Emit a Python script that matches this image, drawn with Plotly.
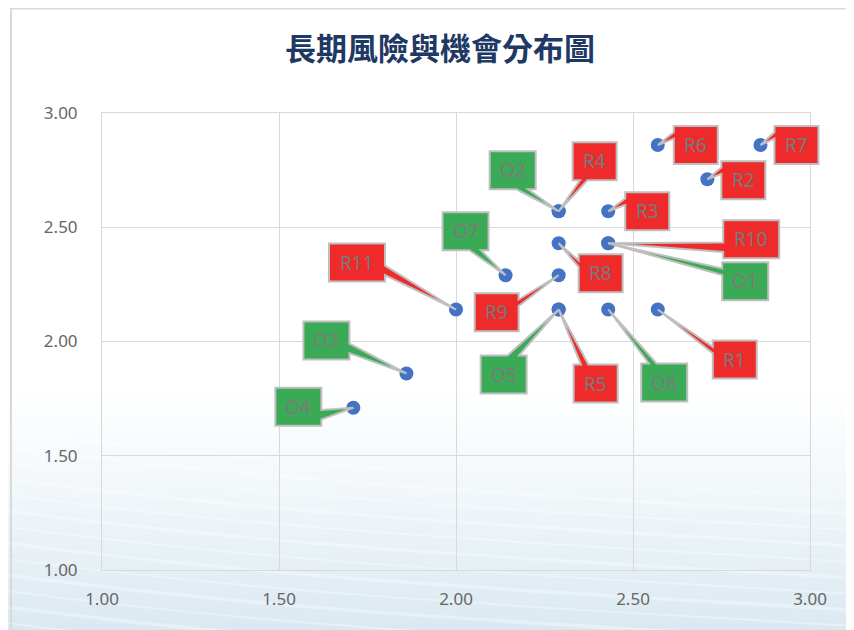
import plotly.graph_objects as go

# ---------------- data ----------------
labels = ["R1", "R2", "R3", "R4", "R5", "R6", "R7", "R8", "R9", "R10", "R11",
          "O1", "O2", "O3", "O4", "O5", "O6", "O7"]
x_vals = [2.57, 2.71, 2.43, 2.29, 2.29, 2.57, 2.86, 2.29, 2.29, 2.43, 2.00,
          2.43, 2.29, 1.86, 1.71, 2.29, 2.43, 2.14]
y_vals = [2.14, 2.71, 2.57, 2.57, 2.14, 2.86, 2.86, 2.43, 2.29, 2.43, 2.14,
          2.43, 2.57, 1.86, 1.71, 2.14, 2.14, 2.29]
tick_vals = [1.0, 1.5, 2.0, 2.5, 3.0]
title_text = "長期風險與機會分布圖"

# ---------------- layout (label box offsets in screen px, relative to point) ----
offsets = {
    "R1": (77, 50), "R2": (36, 1), "R3": (39, 0), "R4": (36, -50),
    "R5": (37, 74), "R6": (38, 0), "R7": (36, 0), "R8": (42, 30),
    "R9": (-62, 37), "R10": (143, -4), "R11": (-99, -47),
    "O1": (137, 38), "O2": (-46, -41), "O3": (-80, -33), "O4": (-55, -1),
    "O5": (-55, 65), "O6": (56, 73), "O7": (-40, -44),
}
draw_order = ["R6", "R7", "R2", "O2", "R4", "R3", "O1", "R10", "R8", "O7",
              "R11", "R9", "O5", "R5", "O6", "R1", "O3", "O4"]

OFF = 8  # browser body margin
SW, SH = 854, 630               # screen size
W, H = SW - OFF, SH - OFF       # figure size
L, R, T, B = 102, 810, 113, 570  # plot area in screen px
XR = (1.0, 3.0)
YR = (1.0, 3.0)
RED = "#EE2A2A"
GREEN = "#3AAA57"
BORDER = "#BFBFBF"


def PX(px):
    return (px - L) / (R - L)


def PY(py):
    return (B - py) / (B - T)


def callout_path(dx, dy, w, h):
    # screen coords (y down) relative to tip at (0,0)
    l, r, t, b = dx - w / 2, dx + w / 2, dy - h / 2, dy + h / 2
    tx, ty = -dx, -dy
    horiz = abs(tx) * h / w > abs(ty)
    if tx > 0:
        hx1, hx2 = l + w * 7 / 12, l + w * 10 / 12
    else:
        hx1, hx2 = l + w * 2 / 12, l + w * 4 / 12
    if ty > 0:
        vy1, vy2 = t + h * 7 / 12, t + h * 10 / 12
    else:
        vy1, vy2 = t + h * 2 / 12, t + h * 4 / 12
    pts = [(l, t)]
    if not horiz and ty < 0:
        pts += [(hx1, t), (0, 0), (hx2, t)]
    pts.append((r, t))
    if horiz and tx > 0:
        pts += [(r, vy1), (0, 0), (r, vy2)]
    pts.append((r, b))
    if not horiz and ty >= 0:
        pts += [(hx2, b), (0, 0), (hx1, b)]
    pts.append((l, b))
    if horiz and tx <= 0:
        pts += [(l, vy2), (0, 0), (l, vy1)]
    return "M " + " L ".join(f"{x:.2f},{-y:.2f}" for x, y in pts) + " Z"


shapes = []

# background gradient (white -> light blue)
top_c = (255, 255, 255)
bot_c = (218, 233, 241)
y_start, y_end = 380, SH
n = 50
for i in range(n):
    y0 = y_start + (y_end - y_start) * i / n
    y1 = y_start + (y_end - y_start) * (i + 1) / n + 0.6
    f = ((i + 0.5) / n) ** 1.2
    c = tuple(round(top_c[k] + (bot_c[k] - top_c[k]) * f) for k in range(3))
    shapes.append(dict(type="rect", xref="paper", yref="paper",
                       x0=PX(0), x1=PX(SW + 10), y0=PY(y1), y1=PY(y0),
                       fillcolor=f"rgb{c}", line=dict(width=0), layer="below"))

# faint white wave streaks
for k in range(15):
    ys = 430 + k * 16
    p0 = (0, ys)
    c1 = (300, ys + 40)
    c2 = (600, ys + 52)
    p1 = (SW, ys + 68)
    path = (f"M {PX(p0[0])},{PY(p0[1])} C {PX(c1[0])},{PY(c1[1])} "
            f"{PX(c2[0])},{PY(c2[1])} {PX(p1[0])},{PY(p1[1])}")
    shapes.append(dict(type="path", xref="paper", yref="paper", path=path,
                       line=dict(color="rgba(255,255,255,0.32)", width=3.5 if k % 2 else 2),
                       layer="below"))

# outer frame
shapes.append(dict(type="line", xref="paper", yref="paper",
                   x0=PX(11), x1=PX(11), y0=PY(8), y1=PY(SH + 5),
                   line=dict(color="#D9D9D9", width=2), layer="below"))
shapes.append(dict(type="line", xref="paper", yref="paper",
                   x0=PX(11), x1=PX(SW + 5), y0=PY(8.5), y1=PY(8.5),
                   line=dict(color="#D9D9D9", width=2), layer="below"))

annotations = []
idx = {lab: i for i, lab in enumerate(labels)}
for lab in draw_order:
    i = idx[lab]
    dx, dy = offsets[lab]
    w = 56 if len(lab) == 3 else (46 if lab.startswith("O") else 44)
    h = 38
    color = RED if lab.startswith("R") else GREEN
    ax = (x_vals[i] - XR[0]) / (XR[1] - XR[0])
    ay = (y_vals[i] - YR[0]) / (YR[1] - YR[0])
    shapes.append(dict(type="path", xref="paper", yref="paper",
                       xsizemode="pixel", ysizemode="pixel",
                       xanchor=ax, yanchor=ay,
                       path=callout_path(dx, dy, w, h),
                       fillcolor=color, line=dict(color=BORDER, width=2),
                       layer="above"))
    annotations.append(dict(x=x_vals[i], y=y_vals[i], xref="x", yref="y",
                            text=lab, showarrow=False, xshift=dx, yshift=-dy,
                            xanchor="center", yanchor="middle",
                            font=dict(family="Noto Sans", size=19, color="#7A7A7A")))

annotations.append(dict(x=PX(440), y=PY(47), xref="paper", yref="paper",
                        text=f"<b>{title_text}</b>", showarrow=False,
                        xanchor="center", yanchor="middle",
                        font=dict(family="Noto Sans CJK TC", size=31, color="#203864")))

fig = go.Figure()
fig.add_trace(go.Scatter(x=x_vals, y=y_vals, mode="markers",
                         marker=dict(color="#4472C4", size=14, line=dict(width=0)),
                         hoverinfo="skip", showlegend=False, cliponaxis=False))

axis_common = dict(tickvals=tick_vals, tickformat=".2f", showgrid=True,
                   gridcolor="#D9D9D9", gridwidth=1, zeroline=False,
                   showline=True, mirror=True, linecolor="#D9D9D9", linewidth=1,
                   ticks="", tickfont=dict(family="Noto Sans", size=17, color="#666666"))
fig.update_xaxes(range=list(XR), ticklabelstandoff=14, **axis_common)
fig.update_yaxes(range=list(YR), ticklabelstandoff=20, **axis_common)

fig.update_layout(width=W, height=H,
                  margin=dict(l=L - OFF, r=SW - R, t=T - OFF, b=SH - B),
                  paper_bgcolor="white", plot_bgcolor="rgba(0,0,0,0)",
                  shapes=shapes, annotations=annotations, showlegend=False)

fig.write_html("out.html")
